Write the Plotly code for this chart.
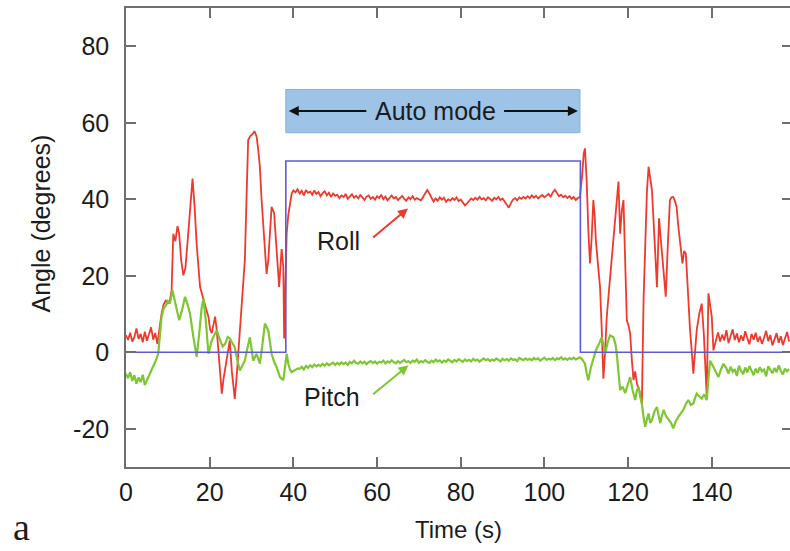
import numpy as np
import plotly.graph_objects as go

# ---------------- data ----------------
# Roll: calm start (0.5 s sampling from 0 s)
roll_start_t0, roll_start_dt = 0.0, 0.5
roll_start_v = [4.5, 3.2, 5.1, 2.8, 4.0, 6.2, 3.5, 4.8, 2.6, 5.4, 3.0, 4.6, 6.5, 3.3, 5.0, 2.2]

# Roll: manual flight before auto mode
roll_a_t = [8.0, 8.5, 9.0, 9.5, 10.0, 10.5, 10.9, 11.3, 11.8, 12.3, 12.7, 13.2, 13.7, 14.2, 14.8,
            15.4, 15.9, 16.4, 16.9, 17.7, 18.5, 19.1, 19.7, 20.1, 20.5, 21.0, 21.3, 21.7, 22.2,
            22.6, 22.9, 23.3, 24.1, 24.8, 25.3, 25.7, 26.0, 26.4, 26.8, 27.2, 27.8, 28.4, 28.8,
            29.2, 29.7, 30.2, 30.7, 31.2, 31.6, 32.0, 32.4, 32.8, 33.2, 33.6, 34.0, 34.4, 34.8,
            35.4, 36.0, 36.6, 37.2, 37.6, 37.8, 38.1, 38.4, 38.8, 39.2, 39.6, 40.0]
roll_a_v = [6.5, 10.1, 12.5, 13.5, 12.8, 13.6, 16.2, 31.0, 29.0, 33.0, 31.0, 24.0, 20.1, 22.0, 30.0,
            40.0, 45.4, 38.0, 28.0, 17.1, 13.6, 11.5, 9.3, 6.0, 5.0, 8.0, 9.3, 5.7, -2.0,
            -8.0, -10.8, -7.0, -2.1, 3.1, -5.0, -10.0, -12.2, -7.0, -1.0, 5.0, 14.0, 24.0, 40.0,
            55.5, 56.5, 57.0, 57.8, 56.5, 53.0, 48.5, 40.0, 32.8, 26.0, 20.5, 24.0, 32.0, 38.0,
            36.4, 26.7, 17.1, 27.0, 22.3, 3.6, 15.0, 31.0, 36.0, 39.5, 41.5, 42.3]

# Roll: auto mode (0.5 s sampling from 40.5 s)
roll_auto_t0, roll_auto_dt = 40.5, 0.5
roll_auto_v = [41.8, 42.6, 41.5, 42.2, 41.0, 42.4, 41.7, 42.0, 41.2, 42.3,
               41.4, 41.9, 40.8, 41.6, 42.1, 41.0, 41.7, 40.6, 41.5, 40.9,
               41.2, 40.3, 41.0, 40.6, 41.4, 40.1, 40.8, 41.3, 40.4, 40.9,
               40.2, 41.1, 40.5, 39.8, 40.7, 41.0, 40.1, 40.6, 39.9, 40.8,
               40.3, 41.2, 40.0, 40.7, 39.7, 40.5, 41.0, 40.2, 40.6, 39.8,
               40.4, 40.9, 40.1, 39.6, 40.5, 40.0, 40.8, 39.9, 40.3, 40.1,
               39.7, 40.6, 41.4, 42.4, 41.5, 40.3, 39.4, 40.2, 39.6, 40.5,
               39.9, 40.4, 39.3, 40.0, 39.6, 40.3, 39.8, 40.5, 39.5, 39.9,
               39.2, 38.4, 38.9, 39.6, 40.2, 39.8, 40.4, 39.9, 40.6, 40.0,
               40.3, 39.7, 40.5, 40.1, 39.6, 40.4, 40.0, 40.6, 39.8, 40.2,
               39.5, 38.8, 37.8, 39.0, 39.9, 40.3, 39.7, 40.5, 40.1, 40.6,
               40.2, 40.8, 40.3, 41.0, 40.4, 40.9, 40.2, 40.7, 41.1, 40.5,
               40.9, 41.4, 40.6, 41.8, 42.5, 41.6, 40.8, 41.2, 40.5, 40.9,
               40.3, 40.8, 40.1, 40.6, 39.8, 40.3]

# Roll: manual flight after auto mode
roll_b_t = [108.5, 109.0, 109.4, 109.7, 110.1, 110.5, 110.9, 111.3, 111.7, 112.0, 112.3, 112.8,
            113.3, 113.7, 114.1, 114.5, 114.9, 115.5, 116.1, 116.5, 116.9, 117.3, 117.7, 118.1,
            118.5, 118.9, 119.3, 119.7, 120.1, 120.5, 120.9, 121.3, 121.7, 122.1, 122.7, 123.3,
            123.7, 124.1, 124.5, 124.9, 125.3, 125.7, 126.3, 126.9, 127.4, 128.0, 128.5, 129.0,
            129.5, 130.0, 130.4, 130.8, 131.2, 131.6, 132.0, 132.4, 133.0, 133.4, 133.8, 134.1,
            134.4, 134.8, 135.2, 135.6, 136.0, 136.4, 137.0, 137.6, 138.1, 138.5, 138.8, 139.2,
            139.6, 140.0, 140.4, 140.8, 141.2]
roll_b_v = [40.6, 46.0, 52.0, 53.3, 45.0, 32.0, 23.2, 30.0, 39.8, 36.0, 29.2, 23.0,
            17.0, 6.0, -6.9, 0.0, 9.2, 17.0, 24.0, 30.0, 35.4, 40.0, 44.6, 31.0,
            37.0, 39.8, 25.0, 8.4, 7.0, 4.9, -2.0, -7.3, -5.0, -8.2, -10.0, -13.5,
            13.6, 30.0, 42.0, 48.5, 46.0, 42.4, 30.0, 17.0, 35.0, 26.7, 19.0, 14.5,
            28.0, 39.8, 40.5, 40.6, 39.5, 38.0, 33.0, 28.4, 23.2, 26.5, 25.8, 20.0,
            13.6, 6.0, 0.5, -5.6, 0.0, 5.7, 10.0, 12.7, 4.9, -3.0, -11.6, 15.4,
            12.0, 9.3, 0.5, 2.5, 3.6]

# Roll: calm end (0.5 s sampling from 141.5 s)
roll_end_t0, roll_end_dt = 141.5, 0.5
roll_end_v = [5.2, 2.8, 4.6, 3.1, 5.8, 2.4, 4.3, 6.0, 3.2, 4.9,
              2.6, 4.4, 3.0, 5.5, 3.7, 2.1, 4.8, 3.3, 5.1, 2.7,
              4.1, 2.2, 3.8, 5.6, 2.9, 4.5, 1.8, 3.6, 5.0, 2.5,
              4.2, 1.9, 3.4, 5.3, 2.8]

# Pitch: calm start (0.5 s sampling from 0 s)
pitch_start_t0, pitch_start_dt = 0.0, 0.5
pitch_start_v = [-5.6, -6.8, -5.2, -7.5, -6.0, -8.2, -6.6, -7.8, -5.9, -8.6, -7.3, -6.1, -4.8, -3.9]

# Pitch: manual flight before auto mode
pitch_a_t = [7.0, 7.7, 8.1, 8.5, 9.0, 9.5, 10.0, 10.5, 11.1, 11.6, 12.1, 12.7, 13.4, 14.1, 14.7,
             15.3, 16.1, 16.9, 17.5, 18.1, 18.5, 19.1, 19.7, 20.5, 21.1, 21.7, 22.5, 23.1, 23.7,
             24.3, 24.8, 25.4, 26.0, 26.6, 27.2, 27.8, 28.4, 29.0, 29.6, 30.0, 30.4, 31.2, 32.0,
             32.6, 33.2, 34.0, 34.8, 35.4, 36.0, 36.8, 37.6, 38.0, 38.4, 38.8, 39.2, 39.6, 40.1,
             40.6, 41.1]
pitch_a_v = [-2.5, -0.4, 4.5, 9.2, 11.5, 12.2, 13.4, 12.7, 16.2, 14.0, 11.8, 8.4, 11.0, 14.5, 12.5,
             10.1, 4.0, -1.2, 5.0, 11.8, 14.0, 8.0, -0.4, 3.1, 4.5, 5.7, 3.1, 1.5, 2.2,
             4.0, 3.6, 2.5, 1.3, -2.0, -4.8, -3.5, -2.2, 1.0, 3.9, 1.0, -2.2, -0.4, -3.0,
             2.0, 7.5, 5.7, -0.4, -2.5, -3.9, -6.5, -7.3, -4.0, -0.4, -3.0, -4.5, -5.2, -4.8,
             -4.4, -4.2]

# Pitch: auto mode (0.5 s sampling from 41.5 s)
pitch_auto_t0, pitch_auto_dt = 41.5, 0.5
pitch_auto_v = [-4.3, -3.8, -4.5, -3.6, -4.1, -3.4, -3.9, -3.2, -3.7, -3.3,
                -3.6, -3.0, -3.5, -2.9, -3.4, -3.1, -2.7, -3.3, -2.8, -3.2,
                -2.6, -3.1, -2.7, -3.3, -2.5, -2.9, -2.2, -2.8, -3.0, -2.4,
                -2.9, -2.5, -3.1, -2.6, -2.3, -2.8, -2.4, -3.0, -2.5, -2.7,
                -2.2, -2.9, -2.4, -2.7, -2.1, -2.6, -2.9, -2.3, -2.8, -2.4,
                -2.0, -2.6, -2.3, -2.8, -2.2, -2.5, -1.9, -2.7, -2.3, -2.6,
                -2.1, -2.5, -2.8, -2.2, -2.6, -1.9, -2.4, -2.1, -2.7, -2.2,
                -2.5, -1.9, -2.3, -2.6, -2.0, -2.4, -1.8, -2.2, -2.5, -1.9,
                -2.3, -2.0, -2.4, -1.7, -2.2, -1.9, -2.5, -2.0, -1.6, -2.1,
                -1.8, -2.3, -1.9, -2.2, -1.6, -2.0, -2.4, -1.7, -2.1, -1.8,
                -2.2, -1.6, -2.0, -1.8, -2.3, -1.5, -1.9, -2.1, -1.6, -2.0,
                -1.7, -2.1, -1.5, -1.9, -1.6, -2.2, -1.8, -1.4, -2.0, -1.7,
                -1.9, -1.5, -2.1, -1.6, -1.8, -1.3, -1.9, -1.6, -2.0, -1.5,
                -1.8, -1.4, -1.9, -1.5]

# Pitch: manual flight after auto mode
pitch_b_t = [108.5, 109.0, 109.7, 110.1, 110.5, 111.1, 111.7, 112.3, 112.9, 113.7, 114.1, 114.5,
             115.1, 115.7, 116.5, 117.0, 117.3, 117.7, 118.1, 118.7, 119.3, 119.9, 120.5, 121.1,
             121.7, 122.1, 122.5, 122.9, 123.3, 123.7, 124.1, 124.5, 124.9, 125.3, 125.7, 126.3,
             126.9, 127.3, 127.7, 128.1, 128.5, 129.1, 129.7, 130.3, 130.8, 131.4, 132.0, 132.6,
             133.2, 133.8, 134.4, 135.0, 135.6, 136.0, 136.4, 137.0, 137.6, 138.2, 138.8, 139.2,
             139.6, 140.0, 140.4, 141.0, 141.6, 142.2, 142.8]
pitch_b_v = [-1.3, -1.8, -3.0, -5.5, -7.3, -4.0, -1.7, 0.5, 1.8, 3.9, 2.0, -0.4,
             2.5, 4.4, 3.9, 2.0, -0.4, -5.0, -9.9, -9.0, -10.7, -8.5, -6.5, -10.0,
             -12.5, -10.0, -9.0, -11.5, -13.5, -17.0, -19.5, -17.5, -16.0, -18.5, -17.8, -15.5,
             -14.3, -16.5, -18.6, -16.5, -15.1, -16.8, -17.8, -18.5, -19.9, -18.0, -16.9, -16.0,
             -15.1, -13.5, -12.5, -13.8, -13.4, -12.0, -10.8, -11.5, -12.1, -11.0, -12.5, -7.0,
             -2.2, -3.0, -3.9, -5.5, -6.5, -4.5, -3.0]

# Pitch: calm end (0.5 s sampling from 143.5 s)
pitch_end_t0, pitch_end_dt = 143.5, 0.5
pitch_end_v = [-4.2, -5.6, -3.8, -5.1, -4.4, -6.2, -3.5, -4.9, -5.7, -4.0,
               -5.3, -3.6, -4.8, -6.0, -4.3, -5.4, -3.9, -5.0, -4.5, -6.3,
               -3.7, -4.6, -5.5, -4.1, -5.2, -3.4, -4.9, -5.8, -4.3, -5.0, -4.4]

# Auto-mode flag signal
mode_t = [0.0, 38.2, 38.2, 108.6, 108.6, 160.0]
mode_v = [0, 0, 50, 50, 0, 0]

x_ticks = [0, 20, 40, 60, 80, 100, 120, 140]
y_ticks = [-20, 0, 20, 40, 60, 80]
y_tick_text = ["-20", "0", "20", "40", "60", "80"]
x_range = [0, 158.7]
y_range = [-30, 90]


def sampled(t0, dt, vals):
    return [t0 + i * dt for i in range(len(vals))], list(vals)


def join(*parts):
    tt, vv = [], []
    for t, v in parts:
        tt += list(t)
        vv += list(v)
    return tt, vv


roll_t, roll_v = join(sampled(roll_start_t0, roll_start_dt, roll_start_v), (roll_a_t, roll_a_v),
                      sampled(roll_auto_t0, roll_auto_dt, roll_auto_v), (roll_b_t, roll_b_v),
                      sampled(roll_end_t0, roll_end_dt, roll_end_v))
pitch_t, pitch_v = join(sampled(pitch_start_t0, pitch_start_dt, pitch_start_v), (pitch_a_t, pitch_a_v),
                        sampled(pitch_auto_t0, pitch_auto_dt, pitch_auto_v), (pitch_b_t, pitch_b_v),
                        sampled(pitch_end_t0, pitch_end_dt, pitch_end_v))

RED = "#ee3a2c"
GREEN = "#7ec634"
BLUE = "#5b5bd6"
AXIS = "#6e6e6e"
TXT = "#1c1c1c"
SANS = "Liberation Sans, Arial, sans-serif"

fig = go.Figure()
fig.add_trace(go.Scatter(x=roll_t, y=roll_v, mode="lines", line=dict(color=RED, width=1.8), name="Roll"))
fig.add_trace(go.Scatter(x=pitch_t, y=pitch_v, mode="lines", line=dict(color=GREEN, width=2.2), name="Pitch"))
fig.add_trace(go.Scatter(x=mode_t, y=mode_v, mode="lines", line=dict(color=BLUE, width=1.6), name="Auto"))
# invisible trace on the right axis so its inside ticks are drawn
fig.add_trace(go.Scatter(x=mode_t, y=mode_v, mode="lines", line=dict(width=0), yaxis="y2",
                         hoverinfo="skip", showlegend=False, opacity=0))

# Auto mode box
fig.add_shape(type="rect", xref="x", yref="y", x0=38.2, x1=108.5, y0=57.4, y1=68.7,
              fillcolor="#9dc3e6", line=dict(color="#86aed6", width=1), layer="above")

annotations = [
    dict(x=74.0, y=63.1, xref="x", yref="y", text="Auto mode", showarrow=False,
         font=dict(family=SANS, size=25, color=TXT)),
    dict(x=38.9, y=63.1, ax=57.8, ay=63.1, xref="x", yref="y", axref="x", ayref="y",
         text="", showarrow=True, arrowhead=2, arrowsize=1, arrowwidth=2, arrowcolor="#111"),
    dict(x=108.0, y=63.1, ax=90.0, ay=63.1, xref="x", yref="y", axref="x", ayref="y",
         text="", showarrow=True, arrowhead=2, arrowsize=1, arrowwidth=2, arrowcolor="#111"),
    dict(x=50.7, y=29.2, xref="x", yref="y", text="Roll", showarrow=False,
         font=dict(family=SANS, size=25, color=TXT)),
    dict(x=67.4, y=37.6, ax=58.7, ay=29.7, xref="x", yref="y", axref="x", ayref="y",
         text="", showarrow=True, arrowhead=2, arrowsize=1, arrowwidth=2, arrowcolor=RED),
    dict(x=49.2, y=-11.6, xref="x", yref="y", text="Pitch", showarrow=False,
         font=dict(family=SANS, size=25, color=TXT)),
    dict(x=67.5, y=-3.4, ax=58.7, ay=-11.3, xref="x", yref="y", axref="x", ayref="y",
         text="", showarrow=True, arrowhead=2, arrowsize=1, arrowwidth=2, arrowcolor=GREEN),
    dict(x=0, y=0.5, xref="paper", yref="paper", xanchor="center", yanchor="middle",
         xshift=-86, yshift=14, text="Angle (degrees)",
         textangle=-90, showarrow=False, font=dict(family=SANS, size=25, color=TXT)),
    dict(x=0.5, y=0, xref="paper", yref="paper", xanchor="center", yanchor="middle",
         yshift=-62, text="Time (s)",
         showarrow=False, font=dict(family=SANS, size=24, color=TXT)),
    dict(x=0, y=0, xref="paper", yref="paper", xanchor="center", yanchor="middle",
         xshift=-105, yshift=-60, text="a", borderpad=0,
         showarrow=False, font=dict(family="Liberation Serif, serif", size=38, color=TXT)),
]

fig.update_layout(
    width=790, height=551,
    margin=dict(l=126, r=0, t=8, b=84),
    paper_bgcolor="white", plot_bgcolor="white",
    showlegend=False,
    annotations=annotations,
    xaxis=dict(range=x_range, tickvals=x_ticks, ticks="inside", ticklen=10, tickwidth=1.5,
               tickcolor=AXIS, showline=True, linecolor=AXIS, linewidth=1.5, mirror="ticks",
               showgrid=False, zeroline=False, ticklabelstandoff=2,
               tickfont=dict(family=SANS, size=25, color=TXT)),
    yaxis=dict(range=y_range, tickvals=y_ticks, ticktext=y_tick_text, ticks="inside", ticklen=10,
               tickwidth=1.5, tickcolor=AXIS, showline=True, linecolor=AXIS, linewidth=1.5,
               mirror=False, showgrid=False, zeroline=False, ticklabelstandoff=10,
               tickfont=dict(family=SANS, size=25, color=TXT)),
    yaxis2=dict(range=y_range, tickvals=y_ticks, ticks="inside", ticklen=8, tickwidth=1.5,
                tickcolor=AXIS, showline=False, showticklabels=False, showgrid=False,
                zeroline=False, overlaying="y", side="right", anchor="x"),
)

fig.write_html("out.html")
